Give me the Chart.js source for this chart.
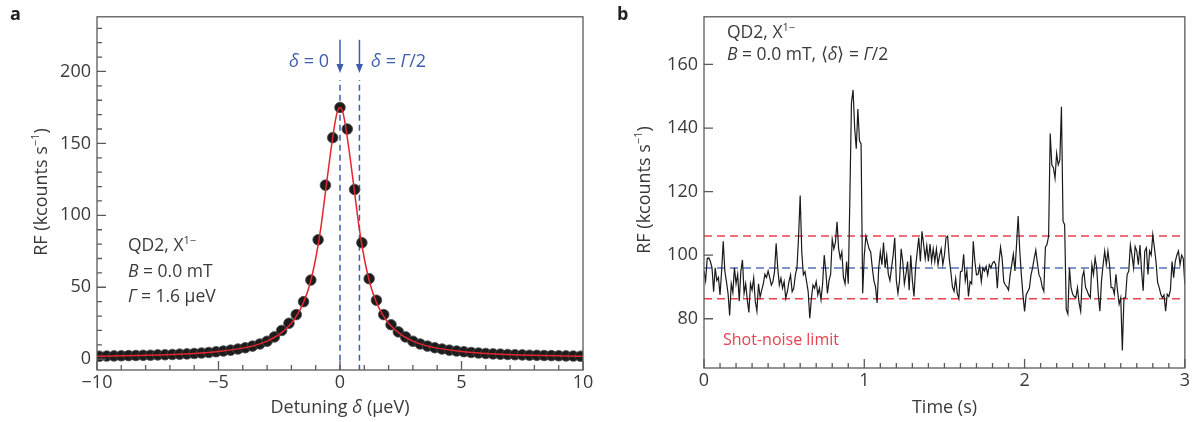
<!DOCTYPE html>
<html>
<head>
<meta charset="utf-8">
<script src="https://cdn.jsdelivr.net/npm/chart.js@4.4.1/dist/chart.umd.min.js"></script>
<style>
  body { margin: 0; background: #fff; width: 1192px; height: 422px; overflow: hidden; position: relative; }
  canvas { position: absolute; top: 0; }
  #chartA { left: 0; }
  #chartB { left: 596px; }
</style>
</head>
<body>
<canvas id="chartA" width="596" height="422"></canvas>
<canvas id="chartB" width="596" height="422"></canvas>
<script>
// ---- panel a: resonance scan ----
const detuning = [
  -9.9, -9.6, -9.3, -9.0, -8.7, -8.4, -8.1, -7.8, -7.5, -7.2, -6.9, -6.6, -6.3, -6.0, -5.7, -5.4, -5.1,
  -4.8, -4.5, -4.2, -3.9, -3.6, -3.3, -3.0, -2.7, -2.4, -2.1, -1.8, -1.5, -1.2, -0.9, -0.6, -0.3, 0,
  0.3, 0.6, 0.9, 1.2, 1.5, 1.8, 2.1, 2.4, 2.7, 3.0, 3.3, 3.6, 3.9, 4.2, 4.5, 4.8,
  5.1, 5.4, 5.7, 6.0, 6.3, 6.6, 6.9, 7.2, 7.5, 7.8, 8.1, 8.4, 8.7, 9.0, 9.3, 9.6, 9.9
];
const rfScan = [
  2.1, 2.2, 2.3, 2.4, 2.5, 2.6, 2.7, 2.8, 3.0, 3.1, 3.3, 3.5, 3.7, 4.0, 4.3, 4.7, 5.2,
  5.7, 6.3, 7.1, 8.0, 9.1, 10.6, 12.5, 15.5, 20, 25, 31, 40, 55, 83, 121, 154, 175,
  160, 118, 81, 56, 41, 31, 24, 19, 15.5, 12.5, 10.6, 9.1, 8.0, 7.1, 6.3, 5.7,
  5.2, 4.7, 4.3, 4.0, 3.7, 3.5, 3.3, 3.1, 3.0, 2.8, 2.7, 2.6, 2.5, 2.4, 2.3, 2.2, 2.1
];
const fitX = [-10, -8, -6, -5, -4, -3.5, -3, -2.5, -2, -1.75, -1.5, -1.25, -1, -0.8, -0.6, -0.4, -0.2, -0.1, 0,
  0.1, 0.2, 0.4, 0.6, 0.8, 1, 1.25, 1.5, 1.75, 2, 2.5, 3, 3.5, 4, 5, 6, 8, 10];
const fitY = [2.1, 2.7, 4.0, 5.3, 7.7, 9.6, 12.6, 17.2, 25.0, 31.1, 39.5, 51.6, 70, 90, 116, 142, 165, 172.5, 175,
  172.5, 165, 142, 116, 90, 70, 51.6, 39.5, 31.1, 25.0, 17.2, 12.6, 9.6, 7.7, 5.3, 4.0, 2.7, 2.1];
const markerX = [0, 0.8];            // delta = 0 and delta = Gamma/2
const xTicksA = [-10, -5, 0, 5, 10];
const yTicksA = [0, 50, 100, 150, 200];

// ---- panel b: time trace at delta = Gamma/2 ----
const timeStep = 0.01;
const rfTrace = [
  95, 92, 99, 99.2, 98, 96, 88.5, 96, 92, 93,
  87.5, 95, 104.4, 95, 91.7, 88, 81, 91, 88.3, 96,
  91, 94, 85.5, 95, 98.5, 88, 91, 86, 82, 91,
  89, 92.8, 85.5, 82.4, 91, 86.8, 89, 91, 94, 93,
  95, 93, 90.6, 91.7, 94.8, 103.7, 96, 90.6, 92.8, 89.6,
  91.7, 86.4, 88.5, 91.7, 93.8, 88.5, 89.6, 93.8, 96, 105.7,
  118.8, 101, 93.8, 94.8, 91.7, 88.5, 80.2, 86.4, 90.6, 89.6,
  91.7, 87.5, 89.6, 86, 91, 100, 95, 88, 92, 94,
  105, 102, 104, 110.5, 102, 99, 101, 93, 91, 98,
  91, 118, 148, 152, 140, 133.5, 146, 136, 135, 88,
  100, 106, 104, 102, 101, 96, 92, 90, 85, 96,
  101, 97, 104, 96, 100, 94, 92, 96, 100, 105.5,
  92, 88, 92, 102, 98, 91, 94, 98, 89, 100,
  92, 87, 96, 101, 105.5, 98, 107.5, 103.5, 99, 103,
  98, 103.5, 98, 102, 98, 102, 97, 100, 102, 97,
  100, 105.5, 106, 99, 94.8, 90, 88.6, 92.7, 88, 86.4,
  94.8, 95, 100.3, 92, 95, 87, 91.7, 91, 104.4, 98,
  93.8, 94, 96.5, 91.7, 96, 95, 96.5, 93.8, 97, 96,
  97.5, 98, 97, 89.6, 97.5, 102.5, 99, 91.7, 90.6, 90,
  89, 93.8, 97, 100.3, 95, 103.4, 112.3, 101.4, 93.8, 87.5,
  82.3, 87.5, 88.6, 89.6, 93.8, 96, 99, 101.6, 97.5, 93.8,
  92.7, 90, 88.6, 102.5, 103.4, 106, 138.3, 128.4, 127.5, 124.2,
  132, 128.4, 130, 146.7, 110.7, 109.6, 83, 81.5, 96, 89.8,
  87.7, 87, 86.6, 89.8, 85, 82.4, 93, 95, 90, 88.8,
  87.5, 86.6, 97, 93.9, 99.1, 96, 87.7, 82.4, 92, 97,
  101.3, 97, 101.3, 97, 89.8, 89.8, 87.7, 94, 88.8, 84.6,
  86.6, 70, 86.6, 86.6, 93.9, 95, 103.2, 100, 96, 102.7,
  101.3, 97, 103.2, 95, 88.8, 101.3, 102.3, 93.9, 101.3, 100,
  106.4, 102.3, 98, 91.4, 89.8, 87.7, 86.6, 87.5, 82.4, 87.7,
  87, 89, 98, 92.9, 98, 100, 101.3, 97, 100, 99,
  90.8
];
const meanLevel = 96;
const shotNoise = [86.3, 106];
const xTicksB = [0, 1, 2, 3];
const yTicksB = [80, 100, 120, 140, 160];

const FAM = '"Open Sans", sans-serif';
const TXT = '#3a3a3a';
const AXIS = '#5a5a5a';
const BLUE = '#3d5dac';
const BLUE_B = '#5672bd';
const RED = '#e3262f';
const RED_B = '#e8414f';

function fmt(v) { return v < 0 ? '\u2212' + Math.abs(v) : String(v); }

function rich(ctx, parts, x, y, size, color, align) {
  const font = st => (st === 'i' ? 'italic ' : st === 'b' ? 'bold ' : '') +
    (st === 's' ? Math.round(size * 0.62) : size) + 'px ' + FAM;
  let w = 0;
  for (const [t, st] of parts) { ctx.font = font(st); w += ctx.measureText(t).width; }
  let cx = align === 'right' ? x - w : align === 'center' ? x - w / 2 : x;
  ctx.fillStyle = color;
  ctx.textAlign = 'left';
  ctx.textBaseline = 'alphabetic';
  for (const [t, st] of parts) {
    ctx.font = font(st);
    ctx.fillText(t, cx, st === 's' ? y - size * 0.42 : y);
    cx += ctx.measureText(t).width;
  }
}

function range(a, b, step) {
  const out = [];
  for (let v = a; v <= b + 1e-9; v += step) out.push(+v.toFixed(3));
  return out;
}

function frame(chart, xMinor, xMajor, yMinor, yMajor) {
  const { ctx, chartArea: a, scales: { x, y } } = chart;
  ctx.save();
  ctx.strokeStyle = AXIS;
  ctx.lineWidth = 1.3;
  ctx.strokeRect(a.left, a.top, a.right - a.left, a.bottom - a.top);
  ctx.beginPath();
  xMinor.forEach(v => { const p = x.getPixelForValue(v); ctx.moveTo(p, a.bottom); ctx.lineTo(p, a.bottom - 5); });
  xMajor.forEach(v => { const p = x.getPixelForValue(v); ctx.moveTo(p, a.bottom); ctx.lineTo(p, a.bottom - 9); });
  yMinor.forEach(v => { const p = y.getPixelForValue(v); ctx.moveTo(a.left, p); ctx.lineTo(a.left + 5, p); });
  yMajor.forEach(v => { const p = y.getPixelForValue(v); ctx.moveTo(a.left, p); ctx.lineTo(a.left + 9, p); });
  ctx.stroke();
  ctx.restore();
}

function yTitle(ctx, cx, cy) {
  ctx.save();
  ctx.translate(cx, cy);
  ctx.rotate(-Math.PI / 2);
  rich(ctx, [['RF (kcounts s'], ['\u22121', 's'], [')']], 0, 6, 18, TXT, 'center');
  ctx.restore();
}

function axisOptions(xmin, xmax, ymin, ymax, xt, yt, yWidth, xHeight, pad) {
  const tickFont = { family: FAM, size: 18 };
  return {
    responsive: false,
    animation: false,
    events: [],
    layout: { padding: pad },
    plugins: { legend: { display: false }, tooltip: { enabled: false } },
    scales: {
      x: {
        type: 'linear', min: xmin, max: xmax,
        afterBuildTicks: s => { s.ticks = xt.map(v => ({ value: v })); },
        afterFit: s => { s.height = xHeight; },
        grid: { display: false, drawTicks: false },
        border: { display: false },
        ticks: { font: tickFont, color: TXT, padding: 2, maxRotation: 0, autoSkip: false, callback: v => fmt(v) }
      },
      y: {
        type: 'linear', min: ymin, max: ymax,
        afterBuildTicks: s => { s.ticks = yt.map(v => ({ value: v })); },
        afterFit: s => { s.width = yWidth; },
        grid: { display: false, drawTicks: false },
        border: { display: false },
        ticks: { font: tickFont, color: TXT, padding: 6, autoSkip: false, callback: v => fmt(v) }
      }
    }
  };
}

// ---- chart a ----
const decorA = {
  id: 'decorA',
  afterDraw(chart) {
    const { ctx, scales: { x, y } } = chart;
    frame(chart, range(-10, 10, 1), xTicksA, range(0, 230, 10), yTicksA);
    // arrows above the marker lines
    ctx.save();
    ctx.strokeStyle = BLUE;
    ctx.fillStyle = BLUE;
    ctx.lineWidth = 1.5;
    markerX.forEach(v => {
      const px = x.getPixelForValue(v);
      const top = y.getPixelForValue(222);
      const tip = y.getPixelForValue(199);
      ctx.beginPath(); ctx.moveTo(px, top); ctx.lineTo(px, tip - 6); ctx.stroke();
      ctx.beginPath(); ctx.moveTo(px, tip); ctx.lineTo(px - 3.5, tip - 9); ctx.lineTo(px + 3.5, tip - 9); ctx.closePath(); ctx.fill();
    });
    ctx.restore();
    rich(ctx, [['\u03b4', 'i'], [' = 0']], 329, 67, 18, BLUE, 'right');
    rich(ctx, [['\u03b4', 'i'], [' = '], ['\u0393', 'i'], ['/2']], 371, 67, 18, BLUE, 'left');
    rich(ctx, [['a', 'b']], 10, 20, 18, '#222', 'left');
    rich(ctx, [['QD2, X'], ['1\u2212', 's']], 128, 251, 17.5, TXT, 'left');
    rich(ctx, [['B', 'i'], [' = 0.0 mT']], 128, 277, 17.5, TXT, 'left');
    rich(ctx, [['\u0393', 'i'], [' = 1.6 \u03bceV']], 128, 302, 17.5, TXT, 'left');
    rich(ctx, [['Detuning '], ['\u03b4', 'i'], [' (\u03bceV)']], 340, 413, 18, TXT, 'center');
    yTitle(ctx, 41, 192);
  }
};

new Chart(document.getElementById('chartA'), {
  type: 'scatter',
  data: {
    datasets: [
      {
        type: 'line', data: fitX.map((v, i) => ({ x: v, y: fitY[i] })),
        borderColor: RED, borderWidth: 1.5, pointRadius: 0, cubicInterpolationMode: 'monotone', order: 0
      },
      {
        data: detuning.map((v, i) => ({ x: v, y: rfScan[i] })),
        pointRadius: 5.3, backgroundColor: '#1c1c1c', borderColor: '#4a4a4a', borderWidth: 0.8, order: 1
      },
      ...markerX.map(v => ({
        type: 'line', data: [{ x: v, y: -8 }, { x: v, y: 194 }],
        borderColor: BLUE, borderWidth: 1.5, borderDash: [6, 4], pointRadius: 0, order: 2
      }))
    ]
  },
  options: axisOptions(-10, 10, -7.5, 238, xTicksA, yTicksA, 97, 52, { top: 12, right: 13, left: 0, bottom: 0 }),
  plugins: [decorA]
});

// ---- chart b ----
const decorB = {
  id: 'decorB',
  afterDraw(chart) {
    const { ctx } = chart;
    frame(chart, range(0, 3, 0.1), xTicksB, [], yTicksB);
    rich(ctx, [['b', 'b']], 21, 20, 18, '#222', 'left');
    rich(ctx, [['QD2, X'], ['1\u2212', 's']], 131, 38, 17.5, TXT, 'left');
    rich(ctx, [['B', 'i'], [' = 0.0 mT, \u27e8'], ['\u03b4', 'i'], ['\u27e9 = '], ['\u0393', 'i'], ['/2']], 131, 60, 17.5, TXT, 'left');
    rich(ctx, [['Shot-noise limit']], 127, 345, 16, RED_B, 'left');
    rich(ctx, [['Time (s)']], 348.5, 413, 18, TXT, 'center');
    yTitle(ctx, 48, 190);
  }
};

const hLine = (level, color) => ({
  type: 'line', data: [{ x: 0, y: level }, { x: 3, y: level }],
  borderColor: color, borderWidth: 1.5, borderDash: [8, 5], pointRadius: 0, order: 2
});

new Chart(document.getElementById('chartB'), {
  type: 'scatter',
  data: {
    datasets: [
      hLine(shotNoise[0], RED_B),
      hLine(shotNoise[1], RED_B),
      hLine(meanLevel, BLUE_B),
      {
        type: 'line', data: rfTrace.map((v, i) => ({ x: i * timeStep, y: v })),
        borderColor: '#1a1a1a', borderWidth: 1.2, pointRadius: 0, tension: 0, order: 1
      }
    ]
  },
  options: axisOptions(0, 3, 64.5, 175, xTicksB, yTicksB, 108, 54, { top: 12, right: 7, left: 0, bottom: 0 }),
  plugins: [decorB]
});
</script>
</body>
</html>
